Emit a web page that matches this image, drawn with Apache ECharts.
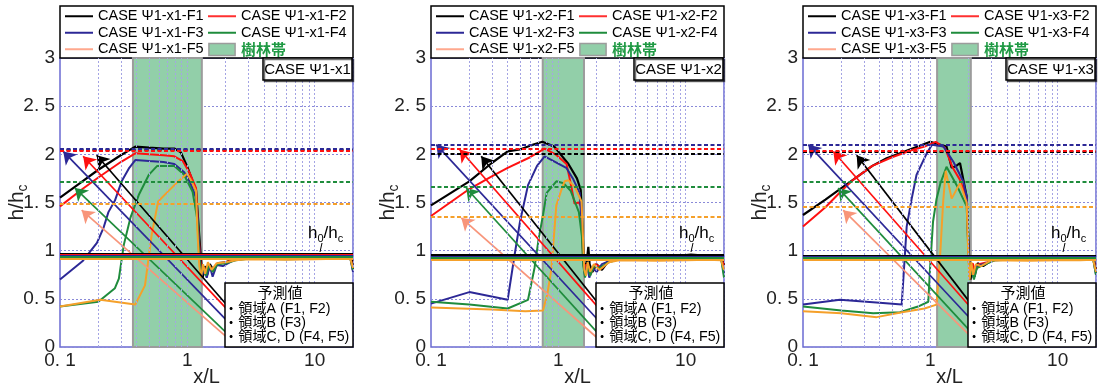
<!DOCTYPE html>
<html><head><meta charset="utf-8">
<script src="https://cdn.jsdelivr.net/npm/echarts@6/dist/echarts.min.js"></script>
<style>html,body{margin:0;padding:0;background:#fff}#c{width:1100px;height:389px}</style>
</head><body><div id="c"></div>
<script>
// ---------------- data ----------------
const caseNames = ['CASE Ψ1-x1', 'CASE Ψ1-x2', 'CASE Ψ1-x3'];
const runSuffix = ['F1', 'F2', 'F3', 'F4', 'F5'];
const bandName = '樹林帯';
const xTickValues = [0.1, 1, 10];
const xTickLabels = ['0. 1', '1', '10'];
const yTickLabels = ['0', '0. 5', '1', '1. 5', '2', '2. 5', '3'];
const xGridValues = [0.2,0.3,0.4,0.5,0.6,0.7,0.8,0.9,1,2,3,4,5,6,7,8,9,10,20];
const treeBand = [[0.374, 1.30], [0.754, 1.59], [1.13, 2.08]];
const legendTitle = '予測値';
const regionLabels = ['・領域A (F1, F2)', '・領域B (F3)', '・領域C, D (F4, F5)'];

// predicted (dashed) and h0/hc (solid) levels, F1..F5
const predicted1 = [2.05, 2.04, 2.055, 1.72, 1.49];
const predicted2 = [2.01, 2.06, 2.10, 1.655, 1.35];
const predicted3 = [2.03, 2.04, 2.10, 1.72, 1.46];
const h0hc1 = [0.975, 0.96, 0.95, 0.935, 0.92];
const h0hc2 = [0.96, 0.945, 0.935, 0.925, 0.91];
const h0hc3 = [0.955, 0.945, 0.935, 0.925, 0.91];

// measured profiles [x/L, h/hc]
const p1F1 = [[0.1,1.55],[0.15,1.72],[0.2,1.84],[0.3,1.99],[0.39,2.08],[0.5,2.07],[0.65,2.06],[0.79,2.06],[0.89,2.02],[1.0,1.87],[1.1,1.72],[1.17,1.63],[1.24,1.16],[1.28,0.90],[1.32,0.72],[1.37,0.84],[1.43,0.75],[1.5,0.86],[1.6,0.8],[1.75,0.87],[2.0,0.88],[2.4,0.92],[3,0.93],[5,0.925],[8,0.93],[12,0.93],[17,0.94],[18.5,0.965],[19.5,0.95],[20,0.8]];
const p1F2 = [[0.1,1.46],[0.15,1.64],[0.2,1.76],[0.3,1.92],[0.39,2.01],[0.5,2.0],[0.65,1.99],[0.79,1.98],[0.92,1.93],[1.05,1.80],[1.17,1.65],[1.22,1.22],[1.26,0.92],[1.3,0.75],[1.35,0.83],[1.41,0.74],[1.48,0.85],[1.58,0.79],[1.72,0.86],[2.0,0.88],[2.4,0.91],[3,0.925],[6,0.92],[10,0.925],[15,0.93],[19,0.94],[20,0.82]];
const p1F3 = [[0.1,0.70],[0.15,0.89],[0.195,1.08],[0.22,1.24],[0.24,1.40],[0.27,1.52],[0.305,1.72],[0.35,1.86],[0.39,1.94],[0.5,1.93],[0.65,1.92],[0.79,1.90],[0.95,1.81],[1.05,1.71],[1.17,1.55],[1.22,1.2],[1.26,0.86],[1.3,0.74],[1.35,0.80],[1.42,0.72],[1.5,0.84],[1.58,0.73],[1.7,0.85],[1.9,0.84],[2.3,0.9],[3,0.92],[6,0.915],[10,0.92],[15,0.925],[19,0.93],[20,0.78]];
const p1F4 = [[0.1,0.42],[0.2,0.47],[0.27,0.61],[0.29,0.71],[0.317,1.06],[0.357,1.34],[0.416,1.58],[0.5,1.79],[0.58,1.88],[0.79,1.88],[0.94,1.79],[1.1,1.61],[1.2,1.32],[1.24,0.93],[1.29,0.76],[1.34,0.82],[1.4,0.74],[1.48,0.85],[1.58,0.78],[1.72,0.86],[2.0,0.87],[2.4,0.9],[3,0.915],[6,0.91],[10,0.915],[15,0.92],[19,0.925],[20,0.8]];
const p1F5 = [[0.1,0.42],[0.207,0.49],[0.39,0.44],[0.465,0.64],[0.524,1.16],[0.59,1.51],[0.7,1.61],[0.85,1.72],[1.0,1.80],[1.08,1.72],[1.17,1.62],[1.2,1.2],[1.24,0.85],[1.28,0.72],[1.33,0.86],[1.38,0.76],[1.45,0.88],[1.55,0.8],[1.7,0.87],[2.0,0.88],[2.4,0.9],[3,0.91],[6,0.905],[10,0.91],[15,0.915],[19,0.92],[20,0.82]];

const p2F1 = [[0.1,1.47],[0.2,1.72],[0.3,1.91],[0.4,2.03],[0.5,2.05],[0.6,2.09],[0.75,2.13],[0.93,2.08],[1.2,1.90],[1.4,1.75],[1.5,1.63],[1.55,1.2],[1.58,0.95],[1.62,0.78],[1.67,0.88],[1.72,1.04],[1.76,0.86],[1.85,0.78],[2.0,0.86],[2.2,0.8],[2.5,0.9],[3,0.93],[5,0.93],[8,0.94],[11,0.96],[14,0.95],[19,0.94],[20,0.85]];
const p2F2 = [[0.1,1.36],[0.2,1.64],[0.3,1.77],[0.4,1.86],[0.6,1.97],[0.78,2.06],[0.95,2.0],[1.16,1.90],[1.25,1.7],[1.34,1.49],[1.45,1.5],[1.52,1.45],[1.56,0.95],[1.6,0.78],[1.66,0.86],[1.72,0.82],[1.8,0.76],[1.95,0.86],[2.2,0.82],[2.5,0.9],[3,0.925],[6,0.92],[10,0.93],[15,0.93],[19,0.93],[20,0.84]];
const p2F3 = [[0.1,0.45],[0.2,0.57],[0.4,0.49],[0.454,0.96],[0.5,1.30],[0.578,1.68],[0.68,1.88],[0.78,1.98],[0.95,1.92],[1.155,1.86],[1.3,1.75],[1.47,1.60],[1.54,1.2],[1.58,0.85],[1.62,0.74],[1.68,0.85],[1.75,0.72],[1.85,0.82],[2.0,0.78],[2.2,0.86],[2.5,0.89],[3,0.92],[6,0.915],[10,0.92],[15,0.925],[19,0.92],[20,0.76]];
const p2F4 = [[0.1,0.47],[0.2,0.44],[0.4,0.40],[0.578,0.49],[0.65,0.82],[0.7,1.12],[0.758,1.37],[0.81,1.6],[0.965,1.72],[1.1,1.70],[1.25,1.62],[1.45,1.40],[1.53,1.15],[1.57,0.85],[1.62,0.72],[1.7,0.84],[1.78,0.74],[1.9,0.84],[2.1,0.82],[2.5,0.88],[3,0.91],[6,0.91],[10,0.915],[15,0.92],[19,0.915],[20,0.72]];
const p2F5 = [[0.1,0.41],[0.3,0.39],[0.55,0.37],[0.758,0.38],[0.82,0.55],[0.88,0.8],[0.93,1.2],[0.964,1.47],[1.05,1.62],[1.12,1.72],[1.2,1.73],[1.35,1.66],[1.52,1.51],[1.56,1.15],[1.6,0.8],[1.65,0.74],[1.7,0.88],[1.78,0.78],[1.9,0.86],[2.1,0.8],[2.5,0.88],[3,0.9],[6,0.895],[10,0.9],[15,0.905],[19,0.9],[20,0.8]];

const p3F1 = [[0.1,1.37],[0.15,1.53],[0.2,1.65],[0.25,1.74],[0.35,1.88],[0.454,1.96],[0.69,2.05],[1.0,2.13],[1.2,2.10],[1.34,2.08],[1.47,1.86],[1.6,1.88],[1.71,1.91],[1.93,1.56],[1.98,1.2],[2.02,0.9],[2.07,0.7],[2.13,0.86],[2.22,0.73],[2.35,0.87],[2.6,0.84],[3.2,0.92],[5,0.93],[8,0.94],[12,0.93],[19,0.94],[20,0.8]];
const p3F2 = [[0.1,1.25],[0.15,1.45],[0.2,1.62],[0.25,1.74],[0.35,1.88],[0.5,1.97],[0.7,2.04],[0.9,2.08],[1.1,2.13],[1.3,2.07],[1.5,1.86],[1.7,1.74],[1.93,1.55],[1.98,1.1],[2.02,0.8],[2.08,0.75],[2.15,0.87],[2.25,0.78],[2.4,0.86],[2.8,0.88],[3.5,0.92],[6,0.925],[10,0.93],[15,0.93],[19,0.935],[20,0.78]];
const p3F3 = [[0.1,0.44],[0.195,0.49],[0.4,0.46],[0.596,0.44],[0.652,1.25],[0.714,1.54],[0.78,1.79],[0.937,2.01],[1.03,2.10],[1.27,2.08],[1.52,1.92],[1.81,1.72],[1.93,1.56],[1.98,1.1],[2.03,0.75],[2.1,0.85],[2.18,0.72],[2.3,0.84],[2.6,0.86],[3.2,0.9],[6,0.915],[10,0.92],[15,0.925],[19,0.92],[20,0.75]];
const p3F4 = [[0.1,0.42],[0.2,0.38],[0.356,0.35],[0.578,0.36],[0.8,0.42],[0.964,0.47],[0.99,0.77],[1.05,1.30],[1.12,1.54],[1.2,1.70],[1.34,1.87],[1.61,1.68],[1.93,1.46],[1.98,1.05],[2.04,0.72],[2.1,0.82],[2.2,0.70],[2.32,0.82],[2.6,0.85],[3.2,0.9],[6,0.91],[10,0.915],[15,0.915],[19,0.91],[20,0.75]];
const p3F5 = [[0.1,0.37],[0.2,0.35],[0.379,0.31],[0.6,0.36],[0.9,0.40],[1.12,0.44],[1.2,1.0],[1.26,1.5],[1.32,1.83],[1.47,1.54],[1.71,1.70],[1.93,1.50],[1.98,1.0],[2.03,0.7],[2.1,0.88],[2.17,0.75],[2.28,0.86],[2.5,0.84],[3,0.9],[6,0.895],[10,0.9],[15,0.9],[19,0.905],[20,0.78]];

// prediction arrows [fromX, fromY, toX, toY] (data coords): A(F1), A(F2), B(F3), C(F4), D(F5)
const arrows1 = [[2.09,0.42,0.194,1.99],[2.09,0.38,0.152,1.98],[2.09,0.26,0.106,2.03],[2.09,0.13,0.131,1.65],[2.09,0.09,0.148,1.42]];
const arrows2 = [[2.12,0.43,0.248,1.98],[2.12,0.39,0.168,2.05],[2.12,0.26,0.110,2.10],[2.12,0.12,0.189,1.65],[2.12,0.07,0.173,1.34]];
const arrows3 = [[2.11,0.44,0.264,1.99],[2.11,0.40,0.173,2.03],[2.11,0.28,0.110,2.10],[2.11,0.15,0.189,1.65],[2.11,0.10,0.207,1.42]];

// ---------------- styling / layout ----------------
const panels = [
  {data:[p1F1,p1F2,p1F3,p1F4,p1F5], pred:predicted1, h0:h0hc1, arrows:arrows1, band:treeBand[0], left:60},
  {data:[p2F1,p2F2,p2F3,p2F4,p2F5], pred:predicted2, h0:h0hc2, arrows:arrows2, band:treeBand[1], left:431},
  {data:[p3F1,p3F2,p3F3,p3F4,p3F5], pred:predicted3, h0:h0hc3, arrows:arrows3, band:treeBand[2], left:803}
];
const TOP = 58, W = 293, H = 289;
const lineColors = ['#000000', '#ff1010', '#2c2896', '#1f8c3c', '#f5a02a'];
const legendLineColors = ['#000000', '#ff3030', '#2c2896', '#1f8c3c', '#ffa88e'];
const arrowColors = ['#000000', '#ff1010', '#2c2896', '#1f8c3c', '#f8957a'];
const FONT = "'Liberation Sans','Noto Sans CJK JP',sans-serif";
const FRAME = '#6b6bd2';
const GRIDC = '#a4a4e4';
const BANDC = '#92cfa9';

const grids = [], xAxes = [], yAxes = [], series = [], legends = [], graphics = [];

panels.forEach((p, i) => {
  const tag = caseNames[i];
  grids.push({left:p.left, top:TOP, width:W, height:H, show:true, borderColor:FRAME, borderWidth:1.5,
    backgroundColor:'transparent', containLabel:false, outerBoundsMode:'none'});
  xAxes.push({
    type:'log', logBase:10, min:0.1, max:20, gridIndex:i,
    name:'x/L', nameLocation:'middle', nameGap:20, nameMoveOverlap:false,
    nameTextStyle:{fontFamily:FONT, fontSize:20, color:'#222', verticalAlign:'top'},
    axisLine:{show:false}, axisTick:{show:false}, splitLine:{show:false},
    axisLabel:{margin:4, fontFamily:FONT, fontSize:19, color:'#222', showMaxLabel:false,
      formatter: v => { const k = xTickValues.findIndex(t => Math.abs(t - v) < 1e-6 * Math.max(1, t)); return k >= 0 ? xTickLabels[k] : ''; }}
  });
  yAxes.push({
    type:'value', min:0, max:3, interval:0.5, gridIndex:i,
    name:'{a|h/h}{s|c}', nameLocation:'middle', nameGap:30, nameRotate:90, nameMoveOverlap:false,
    nameTextStyle:{rich:{a:{fontFamily:FONT, fontSize:21, color:'#222', verticalAlign:'middle', lineHeight:26},
                         s:{fontFamily:FONT, fontSize:14, color:'#222', verticalAlign:'bottom', lineHeight:26}}},
    axisLine:{show:false}, axisTick:{show:false},
    splitLine:{show:true, lineStyle:{type:[2,2], color:'#8a8ad8', width:1}},
    axisLabel:{margin:5, fontFamily:FONT, fontSize:19, color:'#222',
      formatter: v => yTickLabels[Math.round(v / 0.5)]}
  });
  // tree band
  series.push({
    type:'line', name:bandName, xAxisIndex:i, yAxisIndex:i, data:[], z:1, silent:true, symbol:'none',
    itemStyle:{color:BANDC},
    markArea:{silent:true, itemStyle:{color:BANDC, borderColor:'#9c9c9c', borderWidth:2},
      data:[[{xAxis:p.band[0]}, {xAxis:p.band[1]}]]}
  });
  // vertical log grid lines (drawn over the band)
  series.push({
    type:'line', xAxisIndex:i, yAxisIndex:i, data:[], z:2, silent:true,
    markLine:{symbol:'none', silent:true, label:{show:false}, animation:false,
      lineStyle:{type:[2,2], color:GRIDC, width:1},
      data:xGridValues.map(v => ({xAxis:v}))}
  });
  // measured series with predicted/h0 reference lines
  p.data.forEach((d, j) => {
    series.push({
      type:'line', name:tag + '-' + runSuffix[j], xAxisIndex:i, yAxisIndex:i,
      data:d, symbol:'none', z:3,
      lineStyle:{width:j === 0 ? 2.2 : 2, color:lineColors[j]}, itemStyle:{color:lineColors[j]},
      markLine:{symbol:'none', silent:true, label:{show:false}, animation:false,
        data:[
          {yAxis:p.pred[j], lineStyle:{type:[4,2.5], width:2, color:lineColors[j]}},
          {yAxis:p.h0[j], lineStyle:{type:'solid', width:2, color:lineColors[j]}}
        ]}
    });
  });
  // prediction arrows
  series.push({
    type:'lines', coordinateSystem:'cartesian2d', xAxisIndex:i, yAxisIndex:i, z:4, silent:true,
    symbol:['none','arrow'], symbolSize:[0, 12],
    data:p.arrows.map((a, k) => ({coords:[[a[0], a[1]], [a[2], a[3]]], lineStyle:{color:arrowColors[k], width:1.7, opacity:1}}))
  });
  // legend (two columns) + box
  const lineItem = j => ({name:tag + '-' + runSuffix[j], icon:'path://M0,0h28v2h-28z',
    itemStyle:{color:legendLineColors[j], borderWidth:0}});
  const bandItem = {name:bandName, icon:'path://M0,0h24v11h-24z', itemStyle:{color:BANDC, borderColor:'#9c9c9c', borderWidth:1.5},
    textStyle:{color:'#1f9a44', fontWeight:'bold', fontFamily:"'Noto Sans CJK JP',sans-serif", fontSize:15, lineHeight:14}};
  const legendBase = {type:'plain', top:9, orient:'vertical', padding:0, itemGap:2, itemWidth:28, itemHeight:12,
    selectedMode:false, symbolKeepAspect:true, z:6,
    textStyle:{fontFamily:FONT, fontSize:14.5, color:'#000', lineHeight:14}};
  legends.push(Object.assign({}, legendBase, {left:p.left + 5, data:[lineItem(0), lineItem(2), lineItem(4)]}));
  legends.push(Object.assign({}, legendBase, {left:p.left + 148, data:[lineItem(1), lineItem(3), bandItem]}));
  graphics.push({type:'rect', z:1, shape:{x:p.left, y:6, width:W, height:52},
    style:{fill:'#fff', stroke:'#000', lineWidth:1.5}});
  // case tag box
  graphics.push({type:'rect', z:100, shape:{x:p.left + 203, y:TOP, width:89, height:22},
    style:{fill:'#fff', stroke:'#000', lineWidth:1.5, shadowColor:'rgba(0,0,0,0.55)', shadowOffsetX:1.5, shadowOffsetY:1.5}});
  graphics.push({type:'text', z:101, x:p.left + 247.5, y:TOP + 11.5,
    style:{text:tag, font:"15px " + FONT, fill:'#000', align:'center', verticalAlign:'middle'}});
  // prediction legend box
  graphics.push({type:'rect', z:100, shape:{x:p.left + 165, y:283, width:128, height:64},
    style:{fill:'#fff', stroke:'#000', lineWidth:1.5}});
  graphics.push({type:'text', z:101, x:p.left + 220, y:292,
    style:{text:legendTitle, font:"15px 'Noto Sans CJK JP',sans-serif", fill:'#000', align:'center', verticalAlign:'middle'}});
  regionLabels.forEach((t, k) => {
    graphics.push({type:'text', z:101, x:p.left + 164, y:[309.5, 323.5, 337.5][k],
      style:{text:t, font:"14.2px " + FONT, fill:'#000', align:'left', verticalAlign:'middle'}});
  });
  // h0/hc label with leader
  graphics.push({type:'text', z:101, x:p.left + 248, y:233,
    style:{text:'{a|h}{s|0}{a|/h}{s|c}', fill:'#000', align:'left', verticalAlign:'middle',
      rich:{a:{fontFamily:FONT, fontSize:17, verticalAlign:'middle', lineHeight:22, fill:'#000'},
            s:{fontFamily:FONT, fontSize:11, verticalAlign:'bottom', lineHeight:22, fill:'#000'}}}});
  graphics.push({type:'line', z:101, shape:{x1:p.left + 262, y1:243, x2:p.left + 260, y2:252},
    style:{stroke:'#000', lineWidth:1}});
});

const chart = echarts.init(document.getElementById('c'), null, {renderer:'canvas'});
chart.setOption({
  animation:false,
  backgroundColor:'#fff',
  grid:grids, xAxis:xAxes, yAxis:yAxes, series:series, legend:legends, graphic:graphics
});
</script></body></html>
